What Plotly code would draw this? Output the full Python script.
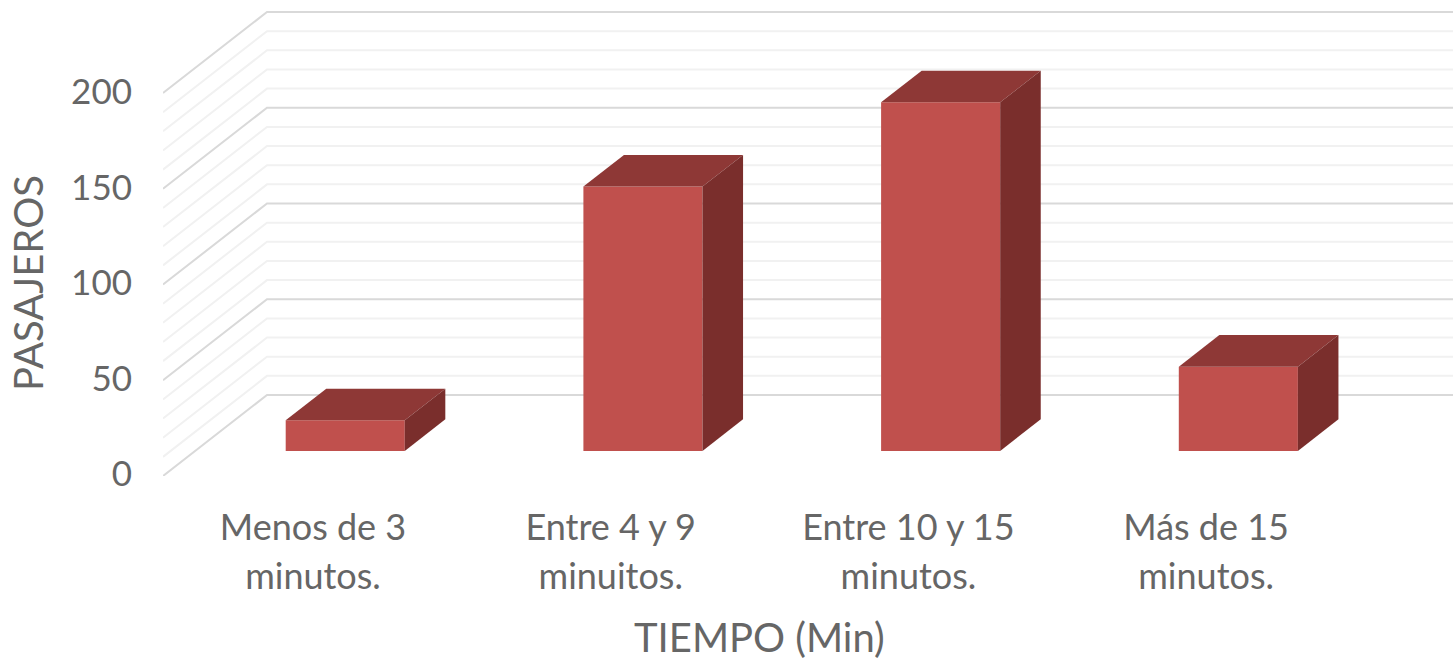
import plotly.graph_objects as go

# Data
CATEGORY_LINE1 = ["Menos de 3", "Entre 4 y 9", "Entre 10 y 15", "Más de 15"]
CATEGORY_LINE2 = ["minutos.", "minuitos.", "minutos.", "minutos."]
PASAJEROS = [16, 138, 182, 44]
Y_TICKS = [0, 50, 100, 150, 200]
GRID_VALUES = [0, 10, 20, 30, 40, 50, 60, 70, 80, 90, 100, 110, 120, 130, 140,
               150, 160, 170, 180, 190, 200]
X_TITLE = "TIEMPO (Min)"
Y_TITLE = "PASAJEROS"

# Oblique projection of the 3-D box (in axis units)
W, H = 1453, 663
L, B = 163, 187
CAT_PX = 297.7
VAL_PX = 1.915
DEPTH_X = 104 / CAT_PX
DEPTH_Y = 81 / VAL_PX
BAR_DEPTH_FRONT = 0.31
BAR_DEPTH_BACK = 0.70
BAR_WIDTH = 0.40
X_RANGE = [-150 / CAT_PX, (W - L - 150) / CAT_PX]
Y_RANGE = [0, (H - B) / VAL_PX]
LABEL_Y_RANGE = [-2 / 1.91, (H - B - 2) / 1.91]

FACE = "#C0504D"
TOP = "#8E3836"
SIDE = "#7A2E2C"
TEXT = "#666666"
MAJOR = "#D9D9D9"
MINOR = "#F1F1F1"
FONT = "Lato"
TICK_FS = 35
CAT_FS = 36
TITLE_FS = 40


def project(cat, val, depth):
    return cat + depth * DEPTH_X, val + depth * DEPTH_Y


fig = go.Figure()

# Walls: minor first, major on top
for major in (False, True):
    xs, ys = [], []
    for v in GRID_VALUES:
        if (v % 50 == 0) != major:
            continue
        for c, d in ((X_RANGE[0], 0), (X_RANGE[0], 1), (X_RANGE[1], 1)):
            px, py = project(c, v, d)
            xs.append(px)
            ys.append(py)
        xs.append(None)
        ys.append(None)
    fig.add_trace(go.Scatter(x=xs, y=ys, mode="lines", cliponaxis=False,
                             line=dict(color=MAJOR if major else MINOR, width=2),
                             hoverinfo="skip", xaxis="x", yaxis="y"))

# Bar front faces (overlay subplot, so they sit above the grid)
cats = list(range(len(PASAJEROS)))
front_x = [project(c, 0, BAR_DEPTH_FRONT)[0] for c in cats]
front_base = [project(c, 0, BAR_DEPTH_FRONT)[1] for c in cats]
fig.add_trace(go.Bar(x=front_x, y=PASAJEROS, base=front_base, width=BAR_WIDTH,
                     marker=dict(color=FACE, line=dict(width=0)),
                     hovertext=[a + " " + b for a, b in zip(CATEGORY_LINE1, CATEGORY_LINE2)],
                     xaxis="x", yaxis="y2"))

# Bar top and side faces
hw = BAR_WIDTH / 2
for c, v in zip(cats, PASAJEROS):
    pts = [project(c - hw, v, BAR_DEPTH_FRONT), project(c + hw, v, BAR_DEPTH_FRONT),
           project(c + hw, v, BAR_DEPTH_BACK), project(c - hw, v, BAR_DEPTH_BACK)]
    fig.add_trace(go.Scatter(x=[p[0] for p in pts], y=[p[1] for p in pts], fill="toself",
                             mode="lines", line=dict(width=0), fillcolor=TOP,
                             hoverinfo="skip", xaxis="x", yaxis="y2"))
    pts = [project(c + hw, 0, BAR_DEPTH_FRONT), project(c + hw, v, BAR_DEPTH_FRONT),
           project(c + hw, v, BAR_DEPTH_BACK), project(c + hw, 0, BAR_DEPTH_BACK)]
    fig.add_trace(go.Scatter(x=[p[0] for p in pts], y=[p[1] for p in pts], fill="toself",
                             mode="lines", line=dict(width=0), fillcolor=SIDE,
                             hoverinfo="skip", xaxis="x", yaxis="y2"))

# Empty traces keep the label-only axes alive
fig.add_trace(go.Scatter(x=[None], y=[None], xaxis="x2", yaxis="y3", hoverinfo="skip"))

tick_font = dict(family=FONT, size=TICK_FS, color=TEXT)
cat_font = dict(family=FONT, size=CAT_FS, color=TEXT)
title_font = dict(family=FONT, size=TITLE_FS, color=TEXT)
fig.update_layout(
    width=W, height=H,
    margin=dict(l=L, r=0, t=0, b=B, pad=0),
    paper_bgcolor="white", plot_bgcolor="white",
    showlegend=False,
    barmode="overlay",
    xaxis=dict(range=X_RANGE, showgrid=False, zeroline=False, showline=False,
               tickmode="array", tickvals=cats, ticktext=CATEGORY_LINE1,
               ticks="outside", ticklen=20, tickcolor="rgba(0,0,0,0)", tickfont=cat_font,
               tickangle=0),
    xaxis2=dict(range=X_RANGE, overlaying="x", side="bottom", anchor="y3", showgrid=False,
                zeroline=False, showline=False,
                tickmode="array", tickvals=cats, ticktext=CATEGORY_LINE2,
                ticks="outside", ticklen=69, tickcolor="rgba(0,0,0,0)", tickfont=cat_font,
                tickangle=0),
    yaxis=dict(range=Y_RANGE, visible=False),
    yaxis2=dict(range=Y_RANGE, overlaying="y", visible=False),
    yaxis3=dict(range=LABEL_Y_RANGE, overlaying="y", side="left", anchor="x2", showgrid=False,
                zeroline=False, showline=False,
                tickmode="array", tickvals=Y_TICKS, ticktext=[str(t) for t in Y_TICKS],
                ticks="outside", ticklen=23, tickcolor="rgba(0,0,0,0)", tickfont=tick_font),
    annotations=[
        dict(text=X_TITLE, xref="paper", yref="paper", x=(759 - L) / (W - L),
             y=-(637 - (H - B)) / (H - B), showarrow=False, xanchor="center", yanchor="middle",
             font=title_font),
        dict(text=Y_TITLE, xref="paper", yref="paper", x=-(L - 28) / (W - L),
             y=(H - B - 283) / (H - B), showarrow=False, textangle=-90, xanchor="center",
             yanchor="middle", font=title_font),
    ],
)

fig.write_html("out.html", config={"displayModeBar": False},
               post_script="document.body.style.margin='0';")
